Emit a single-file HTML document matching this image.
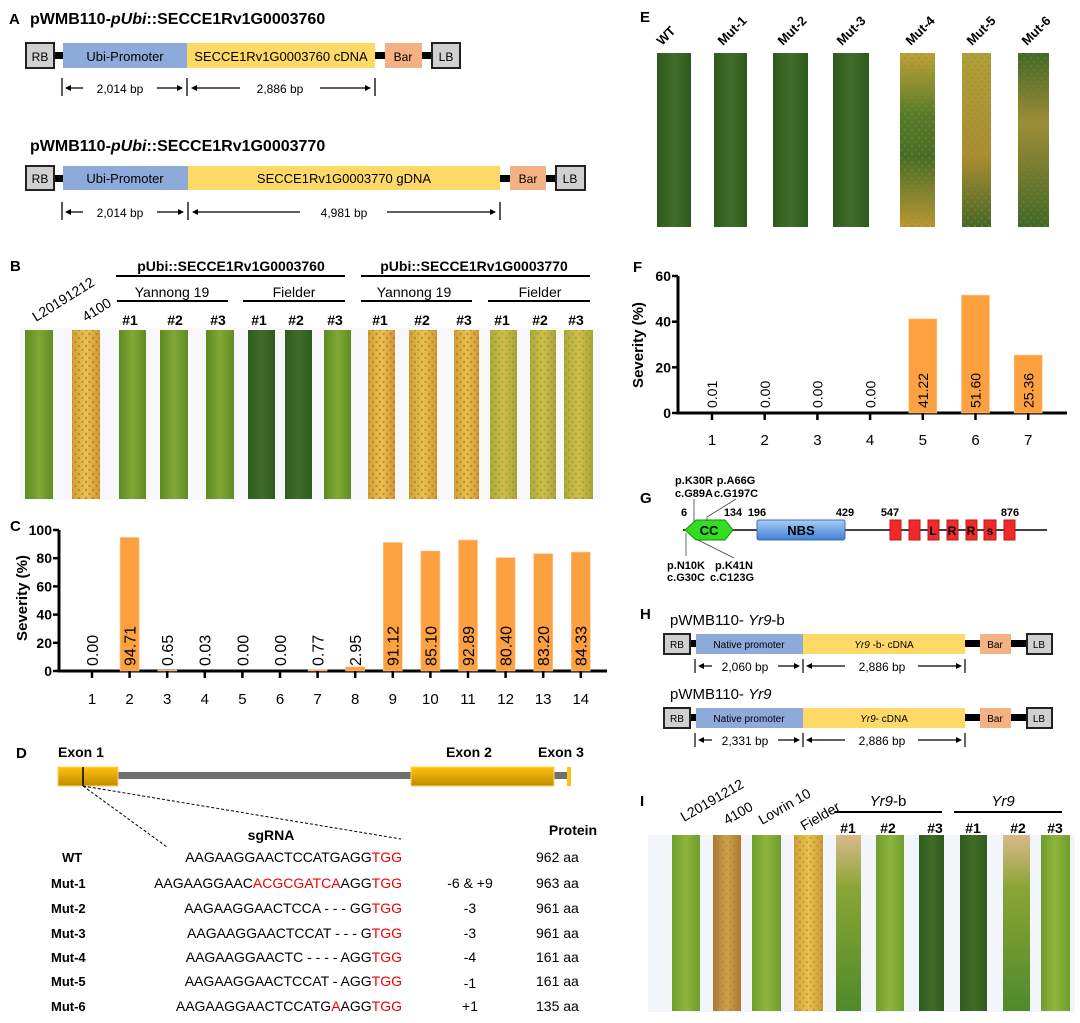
<!DOCTYPE html>
<html><head><meta charset="utf-8"><style>
html,body{margin:0;padding:0;background:#fff;}
svg{display:block;font-family:"Liberation Sans",Arial,sans-serif;}
.b{font-weight:bold;}
</style></head><body>
<svg id="fig" width="1080" height="1023" viewBox="0 0 1080 1023" xmlns="http://www.w3.org/2000/svg">
<defs>
<linearGradient id="gGreen" x1="0" x2="1"><stop offset="0" stop-color="#5d8a22"/><stop offset="0.5" stop-color="#80a834"/><stop offset="1" stop-color="#5f8c24"/></linearGradient>
<linearGradient id="gDark" x1="0" x2="1"><stop offset="0" stop-color="#2f5a1e"/><stop offset="0.5" stop-color="#3f6d28"/><stop offset="1" stop-color="#2f5a1e"/></linearGradient>
<linearGradient id="gRust" x1="0" x2="1"><stop offset="0" stop-color="#c9a13a"/><stop offset="0.5" stop-color="#e3c650"/><stop offset="1" stop-color="#c99a35"/></linearGradient>
<linearGradient id="gRustG" x1="0" x2="1"><stop offset="0" stop-color="#9fae3a"/><stop offset="0.5" stop-color="#c9c24c"/><stop offset="1" stop-color="#a0a838"/></linearGradient>
<linearGradient id="gMut" x1="0" y1="0" x2="0" y2="1"><stop offset="0" stop-color="#b9a53a"/><stop offset="0.35" stop-color="#4f7f2a"/><stop offset="0.6" stop-color="#3f7028"/><stop offset="1" stop-color="#b59a35"/></linearGradient>
<linearGradient id="gMut5" x1="0" y1="0" x2="0" y2="1"><stop offset="0" stop-color="#a9a23a"/><stop offset="0.6" stop-color="#a48f35"/><stop offset="1" stop-color="#3d6a28"/></linearGradient>
<linearGradient id="gMut6" x1="0" y1="0" x2="0" y2="1"><stop offset="0" stop-color="#3d6a28"/><stop offset="0.4" stop-color="#9a8f38"/><stop offset="1" stop-color="#3d6a28"/></linearGradient>
<linearGradient id="gLeafI" x1="0" x2="1"><stop offset="0" stop-color="#6f9d2c"/><stop offset="0.5" stop-color="#8fb53c"/><stop offset="1" stop-color="#6f9d2c"/></linearGradient>
<linearGradient id="gLeafIT" x1="0" y1="0" x2="0" y2="1"><stop offset="0" stop-color="#d9b98a"/><stop offset="0.3" stop-color="#8aa535"/><stop offset="1" stop-color="#4f8a2a"/></linearGradient>
<linearGradient id="gRustI" x1="0" x2="1"><stop offset="0" stop-color="#a87a35"/><stop offset="0.5" stop-color="#c7a54a"/><stop offset="1" stop-color="#a87a35"/></linearGradient>
<linearGradient id="gExon" x1="0" y1="0" x2="0" y2="1"><stop offset="0" stop-color="#ffc20e"/><stop offset="1" stop-color="#c08a00"/></linearGradient>
<linearGradient id="gNBS" x1="0" y1="0" x2="0" y2="1"><stop offset="0" stop-color="#a8cdf5"/><stop offset="1" stop-color="#3f7fd6"/></linearGradient>
<pattern id="dots" width="7" height="8" patternUnits="userSpaceOnUse"><circle cx="2" cy="2" r="1.2" fill="#e8621a"/><circle cx="5.5" cy="6" r="1.1" fill="#e8621a"/></pattern>
</defs>

<!-- Panel A -->
<g>
<text x="9" y="24" font-size="15" class="b">A</text>
<text x="30" y="24" font-size="16" class="b">pWMB110-<tspan font-style="italic">pUbi</tspan>::SECCE1Rv1G0003760</text>
<g>
<rect x="54" y="52" width="378" height="7" fill="#000"/>
<rect x="26" y="43" width="28" height="25" fill="#d0d0d0" stroke="#222" stroke-width="2"/><text x="40" y="61" font-size="12" text-anchor="middle">RB</text>
<rect x="63" y="43" width="124" height="25" fill="#8eaadb"/><text x="125" y="61" font-size="13" text-anchor="middle">Ubi-Promoter</text>
<rect x="187" y="43" width="188" height="25" fill="#ffd966"/><text x="281" y="61" font-size="13" text-anchor="middle">SECCE1Rv1G0003760 cDNA</text>
<rect x="385" y="43" width="37" height="25" fill="#f4b183"/><text x="403" y="61" font-size="12" text-anchor="middle">Bar</text>
<rect x="432" y="43" width="28" height="25" fill="#d0d0d0" stroke="#222" stroke-width="2"/><text x="446" y="61" font-size="12" text-anchor="middle">LB</text>
<g stroke="#000" stroke-width="1.3"><line x1="62" y1="78" x2="62" y2="96"/><line x1="187" y1="78" x2="187" y2="96"/><line x1="375" y1="78" x2="375" y2="96"/>
<line x1="66" y1="88" x2="83" y2="88"/><line x1="157" y1="88" x2="182" y2="88"/><line x1="192" y1="88" x2="240" y2="88"/><line x1="320" y1="88" x2="370" y2="88"/></g>
<g fill="#000"><path d="M65 88 l6 -3 v6z"/><path d="M183 88 l-6 -3 v6z"/><path d="M191 88 l6 -3 v6z"/><path d="M371 88 l-6 -3 v6z"/></g>
<text x="120" y="93" font-size="12" text-anchor="middle">2,014 bp</text><text x="280" y="93" font-size="12" text-anchor="middle">2,886 bp</text>
</g>
<text x="30" y="151" font-size="16" class="b">pWMB110-<tspan font-style="italic">pUbi</tspan>::SECCE1Rv1G0003770</text>
<g>
<rect x="54" y="175" width="502" height="7" fill="#000"/>
<rect x="26" y="166" width="28" height="24" fill="#d0d0d0" stroke="#222" stroke-width="2"/><text x="40" y="183" font-size="12" text-anchor="middle">RB</text>
<rect x="63" y="166" width="125" height="24" fill="#8eaadb"/><text x="125" y="183" font-size="13" text-anchor="middle">Ubi-Promoter</text>
<rect x="188" y="166" width="312" height="24" fill="#ffd966"/><text x="344" y="183" font-size="13" text-anchor="middle">SECCE1Rv1G0003770 gDNA</text>
<rect x="510" y="166" width="36" height="24" fill="#f4b183"/><text x="528" y="183" font-size="12" text-anchor="middle">Bar</text>
<rect x="556" y="166" width="29" height="24" fill="#d0d0d0" stroke="#222" stroke-width="2"/><text x="570" y="183" font-size="12" text-anchor="middle">LB</text>
<g stroke="#000" stroke-width="1.3"><line x1="62" y1="202" x2="62" y2="220"/><line x1="188" y1="202" x2="188" y2="220"/><line x1="500" y1="202" x2="500" y2="220"/>
<line x1="66" y1="212" x2="83" y2="212"/><line x1="157" y1="212" x2="183" y2="212"/><line x1="193" y1="212" x2="300" y2="212"/><line x1="387" y1="212" x2="495" y2="212"/></g>
<g fill="#000"><path d="M65 212 l6 -3 v6z"/><path d="M184 212 l-6 -3 v6z"/><path d="M192 212 l6 -3 v6z"/><path d="M496 212 l-6 -3 v6z"/></g>
<text x="120" y="217" font-size="12" text-anchor="middle">2,014 bp</text><text x="344" y="217" font-size="12" text-anchor="middle">4,981 bp</text>
</g>
</g>

<!-- Panel B -->
<g>
<text x="10" y="271" font-size="15" class="b">B</text>
<text x="231" y="271" font-size="14" class="b" text-anchor="middle">pUbi::SECCE1Rv1G0003760</text>
<line x1="116" y1="276" x2="345" y2="276" stroke="#000" stroke-width="2"/>
<text x="474" y="271" font-size="14" class="b" text-anchor="middle">pUbi::SECCE1Rv1G0003770</text>
<line x1="361" y1="276" x2="590" y2="276" stroke="#000" stroke-width="2"/>
<g font-size="14" text-anchor="middle">
<text x="172" y="297">Yannong 19</text><text x="294" y="297">Fielder</text><text x="414" y="297">Yannong 19</text><text x="540" y="297">Fielder</text>
<g font-weight="bold"><text x="130" y="325">#1</text><text x="175" y="325">#2</text><text x="218" y="325">#3</text><text x="259" y="325">#1</text><text x="296" y="325">#2</text><text x="335" y="325">#3</text><text x="380" y="325">#1</text><text x="422" y="325">#2</text><text x="464" y="325">#3</text><text x="502" y="325">#1</text><text x="540" y="325">#2</text><text x="576" y="325">#3</text></g>
</g>
<g stroke="#000" stroke-width="2"><line x1="117" y1="301" x2="228" y2="301"/><line x1="243" y1="301" x2="345" y2="301"/><line x1="361" y1="301" x2="472" y2="301"/><line x1="488" y1="301" x2="590" y2="301"/></g>
<text x="0" y="0" font-size="14" transform="translate(36,322) rotate(-32)">L20191212</text>
<text x="0" y="0" font-size="14" transform="translate(86,322) rotate(-32)">4100</text>
<rect x="20" y="328" width="580" height="172" fill="#f8f8fa"/>
<g id="leavesB"></g>
</g>

<!-- Panel C -->
<g id="chartC">
<text x="10" y="531" font-size="15" class="b">C</text>
<text transform="translate(27,598) rotate(-90)" font-size="15" class="b" text-anchor="middle">Severity (%)</text>
</g>

<!-- Panel D -->
<g>
<text x="16" y="758" font-size="15" class="b">D</text>
<g font-size="14" class="b"><text x="58" y="757">Exon 1</text><text x="446" y="757">Exon 2</text><text x="538" y="757">Exon 3</text></g>
<g>
<rect x="117" y="772" width="450" height="7" fill="#707070"/>
<rect x="58" y="767" width="60" height="19" fill="url(#gExon)" stroke="#ffd35a"/>
<rect x="411" y="767" width="143" height="19" fill="url(#gExon)" stroke="#ffd35a"/>
<rect x="567" y="767" width="4" height="19" fill="#ffc20e"/>
<line x1="83" y1="767" x2="83" y2="786" stroke="#000" stroke-width="1.5"/>
<g stroke="#000" stroke-dasharray="3,2" stroke-width="1"><line x1="83" y1="786" x2="167" y2="847"/><line x1="83" y1="786" x2="401" y2="839"/></g>
</g>
<text x="271" y="840" font-size="14" class="b" text-anchor="middle">sgRNA</text>
<text x="573" y="835" font-size="14" class="b" text-anchor="middle">Protein</text>
<g font-size="14">
<g class="b" font-size="13"><text x="62" y="862">WT</text><text x="51" y="888">Mut-1</text><text x="51" y="913">Mut-2</text><text x="51" y="938">Mut-3</text><text x="51" y="962">Mut-4</text><text x="51" y="986">Mut-5</text><text x="51" y="1011">Mut-6</text></g>
<g text-anchor="end">
<text x="402" y="862">AAGAAGGAACTCCATGAGG<tspan fill="#e00">TGG</tspan></text>
<text x="402" y="888">AAGAAGGAAC<tspan fill="#e00">ACGCGATCA</tspan>AGG<tspan fill="#e00">TGG</tspan></text>
<text x="402" y="913">AAGAAGGAACTCCA - - - GG<tspan fill="#e00">TGG</tspan></text>
<text x="402" y="938">AAGAAGGAACTCCAT - - - G<tspan fill="#e00">TGG</tspan></text>
<text x="402" y="962">AAGAAGGAACTC - - - - AGG<tspan fill="#e00">TGG</tspan></text>
<text x="402" y="986">AAGAAGGAACTCCAT - AGG<tspan fill="#e00">TGG</tspan></text>
<text x="402" y="1011">AAGAAGGAACTCCATG<tspan fill="#e00">A</tspan>AGG<tspan fill="#e00">TGG</tspan></text>
</g>
<g text-anchor="middle"><text x="470" y="888">-6 &amp; +9</text><text x="470" y="913">-3</text><text x="470" y="938">-3</text><text x="470" y="962">-4</text><text x="470" y="988">-1</text><text x="470" y="1011">+1</text></g>
<g><text x="536" y="862">962 aa</text><text x="536" y="888">963 aa</text><text x="536" y="913">961 aa</text><text x="536" y="938">961 aa</text><text x="536" y="962">161 aa</text><text x="536" y="986">161 aa</text><text x="536" y="1011">135 aa</text></g>
</g>
</g>

<!-- Panel E -->
<g>
<text x="640" y="22" font-size="15" class="b">E</text>
<g font-size="13" class="b">
<text transform="translate(662,46) rotate(-45)">WT</text><text transform="translate(723,46) rotate(-45)">Mut-1</text><text transform="translate(783,46) rotate(-45)">Mut-2</text><text transform="translate(842,46) rotate(-45)">Mut-3</text><text transform="translate(911,46) rotate(-45)">Mut-4</text><text transform="translate(972,46) rotate(-45)">Mut-5</text><text transform="translate(1027,46) rotate(-45)">Mut-6</text>
</g>
<g id="leavesE"></g>
</g>

<!-- Panel F -->
<g id="chartF">
<text x="633" y="272" font-size="15" class="b">F</text>
<text transform="translate(643,345) rotate(-90)" font-size="15" class="b" text-anchor="middle">Severity (%)</text>
</g>

<!-- Panel G -->
<g font-size="11" class="b">
<text x="640" y="503" font-size="15" class="b">G</text>
<line x1="683" y1="530" x2="1047" y2="530" stroke="#000" stroke-width="1.5"/>
<polygon points="685,530 696,520 725,520 733,530 725,540 696,540" fill="#33dd22" stroke="#1a8a10"/>
<text x="709" y="535" font-size="13" text-anchor="middle">CC</text>
<rect x="757" y="520" width="88" height="20" rx="2" fill="url(#gNBS)" stroke="#3f6fb0"/>
<text x="801" y="535" font-size="13" text-anchor="middle">NBS</text>
<g fill="#f02a2a" stroke="#c01a1a">
<rect x="890" y="520" width="11" height="20"/><rect x="909" y="520" width="11" height="20"/><rect x="928" y="520" width="11" height="20"/><rect x="947" y="520" width="11" height="20"/><rect x="966" y="520" width="11" height="20"/><rect x="984" y="520" width="12" height="20"/><rect x="1004" y="520" width="11" height="20"/></g>
<g font-size="12" text-anchor="middle"><text x="933" y="535">L</text><text x="952" y="535">R</text><text x="971" y="535">R</text><text x="990" y="535">s</text></g>
<g text-anchor="middle"><text x="684" y="516">6</text><text x="733" y="516">134</text><text x="757" y="516">196</text><text x="845" y="516">429</text><text x="890" y="516">547</text><text x="1010" y="516">876</text></g>
<g stroke="#444" stroke-width="0.8"><line x1="694" y1="499" x2="694" y2="522"/><line x1="707" y1="521" x2="707" y2="517"/><line x1="707" y1="517" x2="736" y2="499"/><line x1="686" y1="533" x2="686" y2="556"/><line x1="698" y1="540" x2="734" y2="558"/></g>
<text x="694" y="484" text-anchor="middle">p.K30R</text><text x="694" y="497" text-anchor="middle">c.G89A</text>
<text x="736" y="484" text-anchor="middle">p.A66G</text><text x="736" y="497" text-anchor="middle">c.G197C</text>
<text x="686" y="569" text-anchor="middle">p.N10K</text><text x="686" y="581" text-anchor="middle">c.G30C</text>
<text x="734" y="569" text-anchor="middle">p.K41N</text><text x="732" y="581" text-anchor="middle">c.C123G</text>
</g>

<!-- Panel H -->
<g>
<text x="640" y="619" font-size="15" class="b">H</text>
<text x="670" y="625" font-size="15">pWMB110- <tspan font-style="italic">Yr9</tspan>-b</text>
<g>
<rect x="690" y="640" width="337" height="7" fill="#000"/>
<rect x="664" y="634" width="26" height="20" fill="#d0d0d0" stroke="#222" stroke-width="2"/><text x="677" y="648" font-size="10" text-anchor="middle">RB</text>
<rect x="696" y="634" width="107" height="20" fill="#8eaadb"/><text x="749" y="648" font-size="10" text-anchor="middle">Native promoter</text>
<rect x="803" y="634" width="162" height="20" fill="#ffd966"/><text x="884" y="648" font-size="10" text-anchor="middle"><tspan font-style="italic">Yr9</tspan> -b- cDNA</text>
<rect x="980" y="634" width="31" height="20" fill="#f4b183"/><text x="995" y="648" font-size="10" text-anchor="middle">Bar</text>
<rect x="1027" y="634" width="25" height="20" fill="#d0d0d0" stroke="#222" stroke-width="2"/><text x="1039" y="648" font-size="10" text-anchor="middle">LB</text>
<g stroke="#000" stroke-width="1.2"><line x1="695" y1="659" x2="695" y2="673"/><line x1="803" y1="659" x2="803" y2="673"/><line x1="965" y1="659" x2="965" y2="673"/><line x1="700" y1="666" x2="712" y2="666"/><line x1="778" y1="666" x2="798" y2="666"/><line x1="808" y1="666" x2="845" y2="666"/><line x1="918" y1="666" x2="960" y2="666"/></g>
<g fill="#000"><path d="M698 666 l6 -3 v6z"/><path d="M800 666 l-6 -3 v6z"/><path d="M806 666 l6 -3 v6z"/><path d="M962 666 l-6 -3 v6z"/></g>
<text x="745" y="671" font-size="12" text-anchor="middle">2,060 bp</text><text x="882" y="671" font-size="12" text-anchor="middle">2,886 bp</text>
</g>
<text x="670" y="699" font-size="15">pWMB110- <tspan font-style="italic">Yr9</tspan></text>
<g>
<rect x="690" y="714" width="337" height="7" fill="#000"/>
<rect x="664" y="708" width="26" height="20" fill="#d0d0d0" stroke="#222" stroke-width="2"/><text x="677" y="722" font-size="10" text-anchor="middle">RB</text>
<rect x="696" y="708" width="107" height="20" fill="#8eaadb"/><text x="749" y="722" font-size="10" text-anchor="middle">Native promoter</text>
<rect x="803" y="708" width="162" height="20" fill="#ffd966"/><text x="884" y="722" font-size="10" text-anchor="middle"><tspan font-style="italic">Yr9</tspan>- cDNA</text>
<rect x="980" y="708" width="31" height="20" fill="#f4b183"/><text x="995" y="722" font-size="10" text-anchor="middle">Bar</text>
<rect x="1027" y="708" width="25" height="20" fill="#d0d0d0" stroke="#222" stroke-width="2"/><text x="1039" y="722" font-size="10" text-anchor="middle">LB</text>
<g stroke="#000" stroke-width="1.2"><line x1="695" y1="733" x2="695" y2="747"/><line x1="803" y1="733" x2="803" y2="747"/><line x1="965" y1="733" x2="965" y2="747"/><line x1="700" y1="740" x2="712" y2="740"/><line x1="778" y1="740" x2="798" y2="740"/><line x1="808" y1="740" x2="845" y2="740"/><line x1="918" y1="740" x2="960" y2="740"/></g>
<g fill="#000"><path d="M698 740 l6 -3 v6z"/><path d="M800 740 l-6 -3 v6z"/><path d="M806 740 l6 -3 v6z"/><path d="M962 740 l-6 -3 v6z"/></g>
<text x="745" y="745" font-size="12" text-anchor="middle">2,331 bp</text><text x="882" y="745" font-size="12" text-anchor="middle">2,886 bp</text>
</g>
</g>

<!-- Panel I -->
<g>
<text x="640" y="806" font-size="15" class="b">I</text>
<g font-size="14">
<text transform="translate(684,822) rotate(-30)">L20191212</text>
<text transform="translate(727,825) rotate(-30)">4100</text>
<text transform="translate(762,825) rotate(-30)">Lovrin 10</text>
<text transform="translate(804,831) rotate(-30)">Fielder</text>
</g>
<text x="888" y="806" font-size="15" text-anchor="middle"><tspan font-style="italic">Yr9</tspan>-b</text>
<text x="1003" y="806" font-size="15" text-anchor="middle" font-style="italic">Yr9</text>
<g stroke="#000" stroke-width="2"><line x1="835" y1="812" x2="942" y2="812"/><line x1="954" y1="812" x2="1062" y2="812"/></g>
<g font-size="14" class="b" text-anchor="middle"><text x="848" y="833">#1</text><text x="888" y="833">#2</text><text x="935" y="833">#3</text><text x="973" y="833">#1</text><text x="1018" y="833">#2</text><text x="1055" y="833">#3</text></g>
<rect x="648" y="835" width="427" height="177" fill="#f2f5fa"/>
<g id="leavesI"></g>
</g>
</svg>
<script>
// ---------- Chart C data ----------
const cCategories = ["1","2","3","4","5","6","7","8","9","10","11","12","13","14"];
const cValues = [0.00, 94.71, 0.65, 0.03, 0.00, 0.00, 0.77, 2.95, 91.12, 85.10, 92.89, 80.40, 83.20, 84.33];
const cLabels = ["0.00","94.71","0.65","0.03","0.00","0.00","0.77","2.95","91.12","85.10","92.89","80.40","83.20","84.33"];
const cTicks = [0, 20, 40, 60, 80, 100];
// ---------- Chart F data ----------
const fCategories = ["1","2","3","4","5","6","7"];
const fValues = [0.01, 0.00, 0.00, 0.00, 41.22, 51.60, 25.36];
const fLabels = ["0.01","0.00","0.00","0.00","41.22","51.60","25.36"];
const fTicks = [0, 20, 40, 60];

const NS = "http://www.w3.org/2000/svg";
function mk(tag, attrs, parent){ const e=document.createElementNS(NS,tag); for(const k in attrs) e.setAttribute(k,attrs[k]); parent.appendChild(e); return e; }

function drawBarChart(g, cats, vals, labels, ticks, o){
  const yS = v => o.y0 - (v - o.ymin) * (o.y0 - o.y1) / (o.ymax - o.ymin);
  const xS = i => o.x0 + i * o.step;
  const ya = mk("line",{x1:o.ax,y1:o.y1,x2:o.ax,y2:o.y0+1,stroke:"#000","stroke-width":3},g);
  
  
  const xa = mk("line",{x1:o.ax-1.5,y1:o.y0,x2:o.xend,y2:o.y0,stroke:"#000","stroke-width":3},g);
  
  
  ticks.forEach(t=>{
    mk("line",{x1:o.ax-6,y1:yS(t),x2:o.ax,y2:yS(t),stroke:"#000","stroke-width":2.5},g);
    const tl = mk("text",{x:o.ax-7,y:yS(t)+5,"font-size":o.tfs,"font-weight":"bold","text-anchor":"end"},g);
    tl.textContent = t;
    
    
  });
  cats.forEach((c,i)=>{
    const cx = xS(i);
    const v = vals[i];
    if (v > 0.5) {
      const r = mk("rect",{x:cx-o.bw/2,y:yS(v),width:o.bw,height:o.y0-yS(v),fill:"#fda040",stroke:"#ffc58a","stroke-width":0.6},g);
      
      
    }
    mk("line",{x1:cx,y1:o.y0,x2:cx,y2:o.y0+7,stroke:"#000","stroke-width":2.5},g);
    const xl = mk("text",{x:cx,y:o.xly,"font-size":15,"text-anchor":"middle"},g);
    xl.textContent = c;
    
    
    const vl = mk("text",{x:0,y:0,"font-size":o.vfs,transform:"translate("+(cx+o.vfs*0.37)+","+(o.y0-5)+") rotate(-90)"},g);
    vl.textContent = labels[i];
    
    
  });
}
drawBarChart(document.getElementById("chartC"), cCategories, cValues, cLabels, cTicks,
  {p:"c", ymin:0, ymax:100, y0:671, y1:530, x0:92, step:37.6, bw:19, ax:59, xend:607, xly:704, vfs:16, tfs:14});
drawBarChart(document.getElementById("chartF"), fCategories, fValues, fLabels, fTicks,
  {p:"f", ymin:0, ymax:60, y0:413, y1:276, x0:712, step:52.7, bw:28, ax:678, xend:1067, xly:445, vfs:14, tfs:14});

// ---------- leaves (photos) ----------
function leaf(parentId, x1, x2, y1, y2, fill, rust, name){
  const g = document.getElementById(parentId);
  const r = mk("rect",{x:x1,y:y1,width:x2-x1,height:y2-y1,fill:fill},g);
  
  
  if (rust) mk("rect",{x:x1,y:y1,width:x2-x1,height:y2-y1,fill:"url(#dots)",opacity:rust},g);
}
const LB = [[25,53,"gGreen",0],[72,100,"gRust",0.8],[119,146,"gGreen",0],[160,188,"gGreen",0],[206,234,"gGreen",0],[248,275,"gDark",0],[285,312,"gDark",0],[324,351,"gGreen",0],[368,395,"gRust",0.8],[409,437,"gRust",0.7],[454,479,"gRust",0.8],[490,517,"gRustG",0.5],[530,556,"gRustG",0.5],[564,593,"gRustG",0.5]];
LB.forEach((l,i)=>leaf("leavesB", l[0], l[1], 330, 499, "url(#"+l[2]+")", l[3], "leaf-b-"+(i+1)));
const LE = [[657,691,"gDark",0],[714,747,"gDark",0],[773,808,"gDark",0],[833,869,"gDark",0],[900,935,"gMut",0.45],[962,991,"gMut5",0.45],[1018,1049,"gMut6",0.3]];
LE.forEach((l,i)=>leaf("leavesE", l[0], l[1], 53, 227, "url(#"+l[2]+")", l[3], "leaf-e-"+(i+1)));
const LI = [[672,700,"gLeafI",0],[713,741,"gRustI",0.5],[752,781,"gLeafI",0],[794,823,"gRust",0.5],[836,861,"gLeafIT",0],[876,904,"gLeafI",0],[919,944,"gDark",0],[960,987,"gDark",0],[1003,1030,"gLeafIT",0],[1041,1070,"gLeafI",0]];
LI.forEach((l,i)=>leaf("leavesI", l[0], l[1], 835, 1011, "url(#"+l[2]+")", l[3], "leaf-i-"+(i+1)));
</script>
</body></html>
